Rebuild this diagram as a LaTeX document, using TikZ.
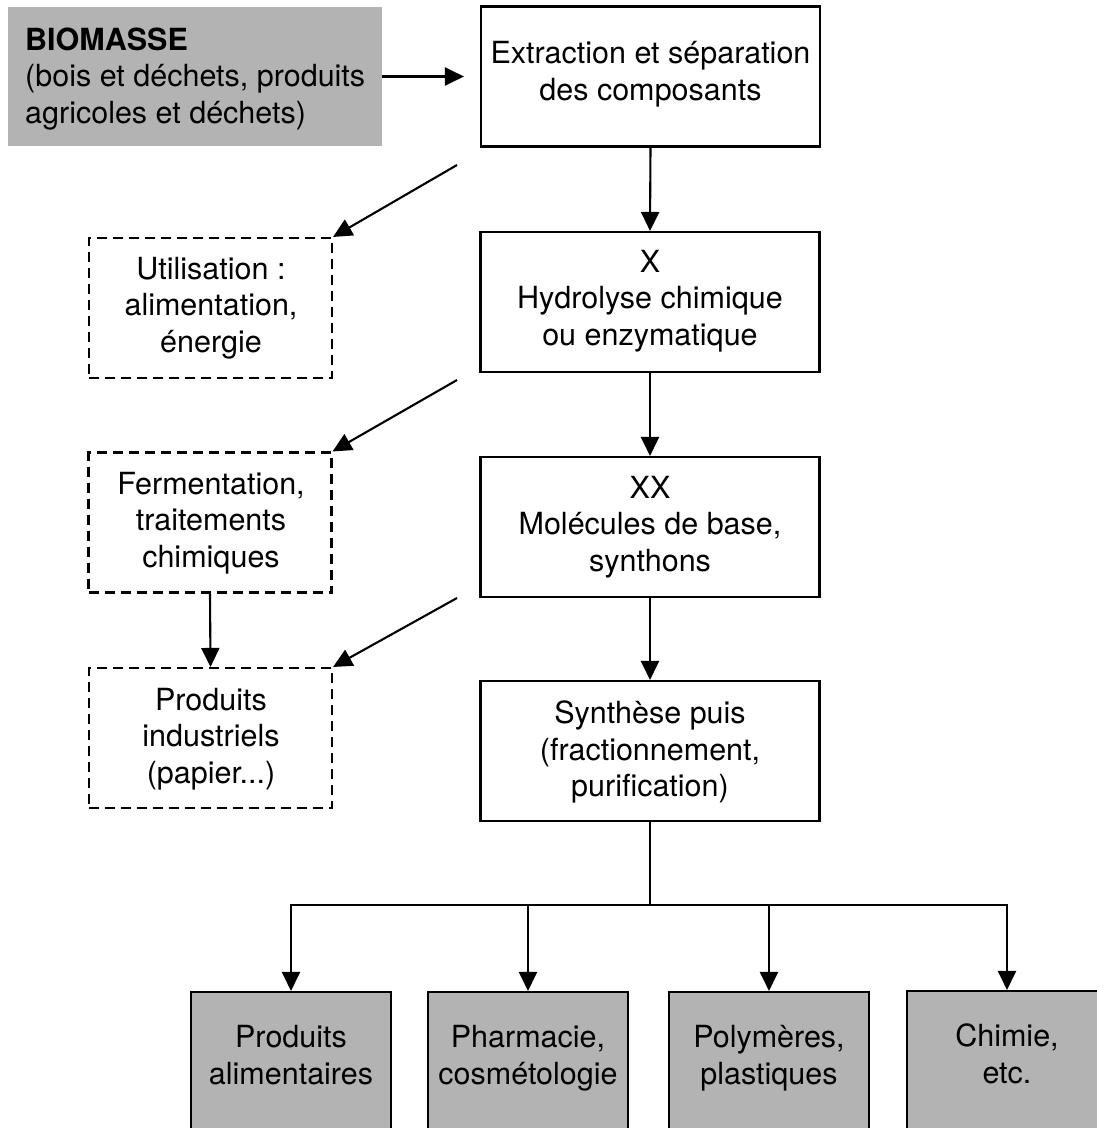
\documentclass[tikz,border=0pt]{standalone}
\usepackage{fontspec}
\setmainfont{TeX Gyre Heros}
\usetikzlibrary{arrows.meta}
\definecolor{boxgray}{HTML}{B3B3B3}
\begin{document}
\begin{tikzpicture}[x=1pt,y=-1pt,
  lw/.style={line width=2.1pt},
  procbox/.style={draw, lw, rectangle, minimum width=339pt, minimum height=140pt, inner sep=0pt},
  dashbox/.style={draw, lw, dash pattern=on 10pt off 6pt, rectangle, minimum width=243pt, minimum height=140pt, inner sep=0pt},
  prodbox/.style={draw, lw, fill=boxgray, rectangle, minimum width=200pt, minimum height=140pt, inner sep=0pt},
  txt/.style={align=center, inner sep=0pt, font=\fontsize{30.5}{36.8}\selectfont},
  arr/.style={lw, -{Triangle[length=19pt,width=18pt]}},
  plain/.style={lw}
]
\useasboundingbox (0,0) rectangle (1097,1128);
\clip (0,0) rectangle (1097,1128);

% biomass source
\node[fill=boxgray, rectangle, minimum width=374pt, minimum height=139pt, inner sep=0pt] (bio) at (195,76.5) {};
\node[txt, align=left, anchor=west] (tbio) at (25,79) {\textbf{BIOMASSE}\\(bois et déchets, produits\\agricoles et déchets)};

% main chain
\node[procbox] (b1) at (650.5,76.5) {};
\node[txt] (t1) at (650.5,74) {Extraction et séparation\\des composants};
\node[procbox] (b2) at (650,302) {};
\node[txt] (t2) at (650,301) {X\\Hydrolyse chimique\\ou enzymatique};
\node[procbox] (b3) at (650,527) {};
\node[txt] (t3) at (650,527) {XX\\Molécules de base,\\synthons};
\node[procbox] (b4) at (650,751) {};
\node[txt] (t4) at (650,752) {Synthèse puis\\(fractionnement,\\purification)};

% side (dashed) boxes
\node[dashbox] (d1) at (210.5,308) {};
\node[txt] (td1) at (211,308) {Utilisation :\\alimentation,\\énergie};
\node[dashbox] (d2) at (210,522.5) {};
\node[txt] (td2) at (211,523) {Fermentation,\\traitements\\chimiques};
\node[dashbox] (d3) at (210.5,738) {};
\node[txt] (td3) at (211,739) {Produits\\industriels\\(papier...)};

% products
\node[prodbox] (p1) at (291,1062) {};
\node[txt] (tp1) at (291,1055) {Produits\\alimentaires};
\node[prodbox] (p2) at (528,1062) {};
\node[txt] (tp2) at (528,1058) {Pharmacie,\\cosmétologie};
\node[prodbox] (p3) at (769,1062) {};
\node[txt] (tp3) at (769,1058) {Polymères,\\plastiques};
\node[prodbox] (p4) at (1007,1061) {};
\node[txt] (tp4) at (1007,1054) {Chimie,\\etc.};

% free ends
\coordinate (s1) at (457,165);
\coordinate (s2) at (457,380);
\coordinate (s3) at (457,598);
\coordinate (j) at (650,905);

% connectors
\draw[arr, shorten >=16pt] (bio.east) -- (b1.west);
\draw[arr] (b1.south) -- (b2.north);
\draw[arr] (b2.south) -- (b3.north);
\draw[arr] (b3.south) -- (b4.north);
\draw[arr] (s1) -- (d1.north east);
\draw[arr] (s2) -- (d2.north east);
\draw[arr] (s3) -- (d3.north east);
\draw[arr] (d2.south) -- (d3.north);
\draw[plain] (b4.south) -- (j);
\draw[arr] (j) -| (p1.north);
\draw[arr] (j) -| (p2.north);
\draw[arr] (j) -| (p3.north);
\draw[arr] (j) -| (p4.north);
\end{tikzpicture}
\end{document}
